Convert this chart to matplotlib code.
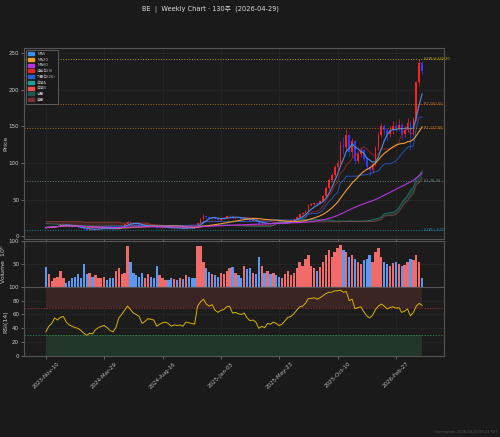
import numpy as np
import pandas as pd
import matplotlib
matplotlib.use("Agg")
import matplotlib.pyplot as plt
from matplotlib.patches import Patch

plt.rcParams['font.family'] = ['DejaVu Sans', 'Noto Sans CJK KR']

# weekly OHLC (130 weeks, 2023-11-10 .. 2026-05-01)
opens = [12.8, 11.5, 12.5, 12.8, 13.6, 14.5, 16.0, 16.5, 14.8, 13.2,
         12.8, 12.2, 11.8, 11.0, 9.8, 8.9, 9.3, 9.0, 10.0, 10.6,
         11.0, 11.2, 10.5, 9.6, 9.2, 10.0, 13.0, 14.5, 16.5, 19.5,
         18.0, 16.8, 16.2, 15.5, 12.5, 13.0, 14.3, 14.0, 13.8, 11.0,
         11.5, 12.0, 12.2, 11.8, 10.5, 10.8, 10.7, 10.8, 10.2, 11.6,
         11.5, 11.2, 11.0, 18.5, 23.0, 27.5, 25.5, 24.5, 26.0, 23.5,
         22.5, 24.0, 24.5, 27.0, 28.0, 24.5, 25.0, 24.5, 24.0, 25.0,
         22.5, 21.0, 21.5, 20.0, 16.5, 17.0, 16.0, 18.0, 17.5, 19.0,
         18.0, 17.0, 17.5, 19.0, 21.0, 21.5, 23.5, 26.5, 30.0, 31.5,
         35.0, 43.0, 44.0, 45.0, 44.0, 48.0, 55.0, 66.0, 77.0, 83.0,
         95.0, 100.0, 125.0, 122.0, 138.0, 115.0, 130.0, 103.0, 112.0, 118.0,
         105.0, 95.0, 90.0, 98.0, 120.0, 138.0, 150.0, 145.0, 140.0, 145.0,
         150.0, 148.0, 152.0, 140.0, 145.0, 155.0, 140.0, 160.0, 210.0, 236.0]
highs = [13.2, 12.9, 13.3, 14.0, 15.0, 16.8, 17.5, 16.9, 15.0, 13.6,
         13.1, 12.6, 12.0, 11.2, 10.0, 9.6, 9.5, 10.3, 10.9, 11.4,
         11.6, 11.3, 10.6, 9.8, 10.2, 13.4, 14.9, 17.0, 20.3, 20.0,
         18.4, 17.2, 16.5, 15.7, 13.4, 14.7, 14.8, 14.3, 13.9, 11.8,
         12.3, 12.6, 12.4, 11.9, 11.1, 11.0, 11.1, 10.9, 11.9, 12.0,
         11.8, 11.5, 19.2, 24.5, 29.8, 28.0, 26.2, 26.8, 26.3, 24.0,
         24.5, 25.2, 27.8, 29.0, 28.3, 25.6, 25.4, 25.0, 26.5, 25.2,
         22.9, 22.2, 21.8, 20.2, 17.6, 17.3, 18.4, 18.6, 19.5, 19.4,
         18.2, 17.9, 19.4, 21.4, 22.2, 24.0, 27.0, 30.8, 32.5, 36.0,
         44.5, 45.5, 46.5, 46.0, 49.5, 56.5, 68.0, 79.0, 86.0, 97.0,
         104.0, 130.0, 135.0, 147.0, 140.0, 134.0, 131.0, 115.0, 122.0, 120.0,
         108.0, 97.0, 100.0, 123.0, 142.0, 155.0, 153.0, 148.0, 150.0, 158.0,
         156.0, 160.0, 155.0, 150.0, 162.0, 157.0, 163.0, 212.0, 242.2, 240.0]
lows = [11.0, 11.3, 12.1, 12.5, 13.2, 14.2, 15.6, 14.5, 12.9, 12.4,
        11.9, 11.5, 10.8, 9.6, 8.5, 8.7, 8.8, 8.9, 9.8, 10.4,
        10.8, 10.3, 9.4, 9.0, 9.1, 9.9, 12.8, 14.3, 16.2, 17.5,
        16.5, 15.8, 15.2, 12.3, 12.2, 12.9, 13.8, 13.5, 10.7, 10.8,
        11.3, 11.8, 11.6, 10.3, 10.2, 10.4, 10.5, 9.9, 10.1, 11.2,
        11.0, 10.8, 10.9, 18.0, 22.5, 24.8, 23.9, 24.0, 22.8, 21.9,
        22.0, 23.5, 24.2, 26.5, 23.8, 24.0, 24.0, 23.5, 23.8, 22.0,
        20.5, 20.8, 19.6, 15.8, 15.5, 15.7, 15.9, 17.2, 17.3, 17.7,
        16.8, 16.8, 17.3, 18.8, 20.6, 21.3, 23.2, 26.2, 29.5, 31.0,
        34.5, 41.5, 42.8, 42.5, 43.5, 47.5, 54.5, 65.0, 74.0, 81.0,
        90.0, 98.0, 112.0, 118.0, 110.0, 108.0, 98.0, 100.0, 108.0, 102.0,
        92.0, 83.0, 86.0, 96.0, 118.0, 135.0, 138.0, 130.0, 136.0, 140.0,
        142.0, 145.0, 133.0, 136.0, 142.0, 118.0, 138.0, 158.0, 205.0, 221.0]
closes = [11.5, 12.5, 12.8, 13.6, 14.5, 16.0, 16.5, 14.8, 13.2, 12.8,
          12.2, 11.8, 11.0, 9.8, 8.9, 9.3, 9.0, 10.0, 10.6, 11.0,
          11.2, 10.5, 9.6, 9.2, 10.0, 13.0, 14.5, 16.5, 19.5, 18.0,
          16.8, 16.2, 15.5, 12.5, 13.0, 14.3, 14.0, 13.8, 11.0, 11.5,
          12.0, 12.2, 11.8, 10.5, 10.8, 10.7, 10.8, 10.2, 11.6, 11.5,
          11.2, 11.0, 18.5, 23.0, 27.5, 25.5, 24.5, 26.0, 23.5, 22.5,
          24.0, 24.5, 27.0, 28.0, 24.5, 25.0, 24.5, 24.0, 25.0, 22.5,
          21.0, 21.5, 20.0, 16.5, 17.0, 16.0, 18.0, 17.5, 19.0, 18.0,
          17.0, 17.5, 19.0, 21.0, 21.5, 23.5, 26.5, 30.0, 31.5, 35.0,
          43.0, 44.0, 45.0, 44.0, 48.0, 55.0, 66.0, 77.0, 83.0, 95.0,
          100.0, 125.0, 122.0, 138.0, 115.0, 130.0, 103.0, 112.0, 118.0, 105.0,
          95.0, 90.0, 98.0, 120.0, 138.0, 150.0, 145.0, 140.0, 145.0, 150.0,
          148.0, 152.0, 140.0, 145.0, 155.0, 140.0, 160.0, 210.0, 236.0, 226.0]

# ichimoku leading spans (already shifted 26 weeks)
span_a = [17.0, 16.8, 16.6, 16.5, 16.3, 16.0, 15.8, 15.5, 15.2, 15.0,
          14.8, 14.6, 14.4, 14.2, 14.0, 13.8, 13.6, 13.5, 13.5, 13.6,
          13.7, 13.8, 13.8, 13.9, 13.9, 13.8, 13.75, 13.8, 13.9, 14.0,
          14.1, 14.2, 14.2, 14.3, 14.3, 14.3, 14.3, 14.3, 14.2, 14.0,
          13.5, 13.0, 12.4, 12.2, 12.0, 11.8, 11.6, 11.5, 11.5, 11.4,
          11.6, 12.1, 12.5, 13.5, 14.5, 14.5, 14.5, 14.6, 14.7, 14.75,
          15.0, 15.3, 15.3, 15.25, 14.5, 14.3, 14.05, 13.9, 13.7, 13.6,
          13.6, 13.5, 13.35, 13.2, 13.0, 13.0, 13.1, 13.0, 14.8, 17.2,
          19.85, 19.9, 19.9, 20.0, 20.1, 20.1, 20.1, 21.5, 22.85, 22.8,
          22.65, 22.65, 22.65, 22.7, 22.7, 22.5, 22.3, 22.1, 21.9, 20.55,
          20.65, 20.65, 20.65, 20.35, 20.9, 20.6, 20.4, 20.5, 20.7, 20.8,
          20.9, 21.5, 22.5, 23.5, 24.3, 26.1, 30.5, 31.3, 32.3, 32.5,
          34.4, 38.7, 45.3, 51.0, 55.5, 62.8, 66.6, 79.6, 82.6, 89.6]
span_b = [19.8, 19.8, 19.8, 19.8, 19.8, 19.8, 19.8, 19.8, 19.8, 19.8,
          19.8, 19.8, 19.8, 19.2, 19.2, 19.2, 19.2, 19.2, 19.2, 19.2,
          19.2, 19.2, 19.2, 19.2, 19.2, 19.2, 18.0, 18.0, 18.0, 18.0,
          18.0, 18.0, 18.0, 18.0, 18.0, 18.0, 15.3, 15.3, 15.3, 15.3,
          14.5, 14.5, 14.5, 14.5, 14.5, 14.5, 14.5, 14.5, 14.5, 14.5,
          14.5, 14.5, 14.4, 14.5, 14.5, 14.5, 14.5, 14.5, 14.5, 14.5,
          14.5, 14.4, 14.4, 14.4, 14.4, 14.4, 14.4, 14.4, 14.4, 14.4,
          14.4, 14.4, 14.4, 14.4, 14.4, 14.4, 14.4, 14.4, 14.4, 16.5,
          19.15, 19.15, 19.15, 19.15, 19.15, 19.15, 19.15, 19.15, 19.15, 19.15,
          19.15, 19.15, 19.25, 19.3, 19.35, 19.4, 19.45, 19.45, 19.45, 19.45,
          19.45, 19.45, 19.85, 19.85, 19.85, 19.85, 19.85, 19.85, 19.85, 19.85,
          19.85, 19.85, 19.85, 20.35, 21.2, 22.95, 27.2, 27.7, 28.2, 28.2,
          29.7, 33.2, 39.0, 44.5, 48.0, 53.6, 57.4, 70.4, 72.9, 79.0]

# volume in millions
volume = [43, 28, 12, 20, 22, 35, 18, 9, 12, 20,
          22, 28, 18, 50, 28, 30, 22, 25, 18, 20,
          22, 15, 20, 20, 35, 40, 28, 30, 90, 55,
          30, 25, 22, 30, 20, 28, 22, 18, 45, 25,
          18, 15, 14, 20, 16, 15, 18, 16, 25, 22,
          20, 18, 90, 88, 55, 40, 32, 28, 25, 22,
          30, 28, 35, 40, 42, 30, 25, 20, 45, 38,
          40, 30, 28, 65, 45, 30, 35, 28, 30, 25,
          22, 20, 28, 35, 25, 30, 40, 55, 45, 60,
          70, 45, 40, 35, 42, 55, 70, 80, 65, 75,
          85, 92, 80, 75, 65, 70, 60, 55, 50, 58,
          60, 70, 55, 75, 85, 65, 55, 50, 45, 52,
          55, 50, 45, 48, 55, 60, 58, 70, 55, 18]

rsi = [35, 43, 47, 55, 52, 56, 57, 49, 45, 43,
       41, 40, 37, 33, 30, 33, 32, 38, 41, 43,
       44, 41, 37, 35, 41, 55, 60, 66, 72, 67,
       62, 60, 57, 47, 50, 54, 53, 52, 43, 46,
       48, 49, 47, 43, 45, 44, 45, 43, 49, 48,
       47, 46, 72, 78, 82, 75, 72, 74, 66, 63,
       66, 67, 71, 72, 62, 63, 61, 60, 62, 55,
       51, 52, 49, 40, 43, 41, 47, 46, 49, 47,
       44, 46, 51, 56, 57, 61, 66, 71, 72, 76,
       83, 83, 84, 82, 84, 87, 90, 92, 92, 94,
       94, 95, 92, 93, 80, 82, 68, 70, 71, 64,
       58, 55, 59, 67, 72, 75, 72, 68, 70, 71,
       69, 70, 63, 65, 68, 58, 63, 72, 76, 73]

tick_labels = ['2023-Nov-10', '2024-Mar-29', '2024-Aug-16', '2025-Jan-03',
               '2025-May-23', '2025-Oct-10', '2026-Feb-27']

levels = [242.20, 180.50, 147.80, 75.70, 8.50]
level_names = ['52W H', 'R2', 'R1', 'S1', '52W L']
level_colors = ['#c9b21a', '#c07818', '#c07818', '#6f8f8f', '#1a8fb0']

df = pd.DataFrame({'open': opens, 'high': highs, 'low': lows, 'close': closes,
                   'volume': volume, 'rsi': rsi, 'span_a': span_a, 'span_b': span_b})
x = np.arange(len(df))

df['ma5'] = df['close'].rolling(5, min_periods=1).mean()
df['ma20'] = df['close'].rolling(20, min_periods=1).mean()
df['ma60'] = df['close'].rolling(60, min_periods=1).mean()
df['tenkan'] = (df['high'].rolling(9, min_periods=1).max() + df['low'].rolling(9, min_periods=1).min()) / 2
df['kijun'] = (df['high'].rolling(26, min_periods=1).max() + df['low'].rolling(26, min_periods=1).min()) / 2

BG = '#1a1a1a'
AX_BG = '#1c1c1c'
UP = '#ff2020'
DOWN = '#2a3cff'

fig = plt.figure(figsize=(5, 4.37), dpi=100, facecolor=BG)
ax = fig.add_axes([0.048, 0.453, 0.84, 0.437])
axv = fig.add_axes([0.048, 0.344, 0.84, 0.1045], sharex=ax)
axr = fig.add_axes([0.048, 0.185, 0.84, 0.159], sharex=ax)

for a in (ax, axv, axr):
    a.set_facecolor(AX_BG)
    for s in a.spines.values():
        s.set_color('#555555')
        s.set_linewidth(0.8)
    a.tick_params(colors='#888888', labelcolor='#cccccc', labelsize=4, length=2, width=0.5, pad=1.5)
    a.grid(True, color='#2c2c2c', lw=0.4)
    a.set_axisbelow(True)

# cloud
sa = df['span_a'].values
sb = df['span_b'].values
ax.fill_between(x, sa, sb, where=sa >= sb, interpolate=True, color='#1e5a50', alpha=0.55, lw=0)
ax.fill_between(x, sa, sb, where=sa < sb, interpolate=True, color='#7a3030', alpha=0.45, lw=0)
ax.plot(x, sa, color='#20a090', lw=0.6, alpha=0.6)
ax.plot(x, sb, color='#f05050', lw=0.6, alpha=0.45)

# candles
up = df['close'] >= df['open']
cols = np.where(up, UP, DOWN)
ax.vlines(x, df['low'], df['high'], colors=cols, lw=0.5)
body = (df['close'] - df['open']).abs().clip(lower=0.6)
ax.bar(x, body, bottom=np.minimum(df['open'], df['close']), width=0.6, color=cols, lw=0)

# lines
ax.plot(x, df['tenkan'], color='#e02828', lw=0.7, alpha=0.55)
ax.plot(x, df['kijun'], color='#2862d6', lw=0.7, alpha=0.8)
ax.plot(x, df['ma5'], color='#4a90e2', lw=0.8)
ax.plot(x, df['ma20'], color='#f39c34', lw=0.8)
ax.plot(x, df['ma60'], color='#b833e0', lw=0.8)

for lv, nm, c in zip(levels, level_names, level_colors):
    ax.axhline(lv, color=c, ls=':', lw=0.7, alpha=0.85)
    ax.text(129.6, lv, f'{nm} {lv:.2f}', color=c, fontsize=2.6, va='center', ha='left')

handles = [Patch(color='#3a8ee6', label='MA5'),
           Patch(color='#f39c34', label='MA20'),
           Patch(color='#b833e0', label='MA60'),
           Patch(color='#e02828', label='전환선(9)'),
           Patch(color='#2862d6', label='기준선(26)'),
           Patch(color='#20a090', label='선행A'),
           Patch(color='#f05050', label='선행B'),
           Patch(color='#1e5a50', label='양운'),
           Patch(color='#7a3030', label='음운')]
leg = ax.legend(handles=handles, loc='upper left', fontsize=2.8, facecolor='#1a1a1a',
                edgecolor='#666666', labelcolor='#bbbbbb', handlelength=1.6,
                handleheight=0.8, labelspacing=0.45, borderpad=0.5, framealpha=1)
leg.get_frame().set_linewidth(0.6)

ax.set_ylim(-4, 257)
ax.set_yticks([0, 50, 100, 150, 200, 250])
ax.set_ylabel('Price', color='#cccccc', fontsize=4.5)
ax.set_xlim(-7.5, 136.5)
ax.tick_params(labelbottom=False)

# volume
vcols = np.where(up, '#f26b6b', '#5a9af5')
axv.bar(x, df['volume'], width=0.8, color=vcols, lw=0)
axv.set_ylim(0, 100)
axv.set_yticks([50, 100])
axv.set_ylabel('Volume  10$^6$', color='#cccccc', fontsize=4.5)
axv.tick_params(labelbottom=False)

# rsi
axr.fill_between(x, 70, 100, color='#3a2424', lw=0)
axr.fill_between(x, 0, 30, color='#22362a', lw=0)
axr.axhline(70, color='#a03535', ls='--', lw=0.5, dashes=(2, 2))
axr.axhline(30, color='#3a9a5a', ls='--', lw=0.5, dashes=(2, 2))
axr.plot(x, df['rsi'], color='#d8b400', lw=0.7)
axr.set_ylim(0, 100)
axr.set_yticks([0, 20, 40, 60, 80, 100])
axr.set_ylabel('RSI(14)', color='#cccccc', fontsize=4.5)
axr.set_xticks(range(0, 130, 20))
axr.set_xticklabels(tick_labels, rotation=45, fontsize=4, color='#bbbbbb')

for a in (ax, axv, axr):
    a.yaxis.set_label_coords(-0.038, 0.5)

fig.text(0.42, 0.986, 'BE  |  Weekly Chart · 130주  (2026-04-29)', ha='center', va='top',
         fontsize=4.8, color='#dddddd')
fig.text(0.994, 0.008, 'Generated: 2026-04-29 09:23 KST', ha='right', va='bottom',
         fontsize=2.6, color='#555555')

fig.savefig('out.png', dpi=100, facecolor=BG)
